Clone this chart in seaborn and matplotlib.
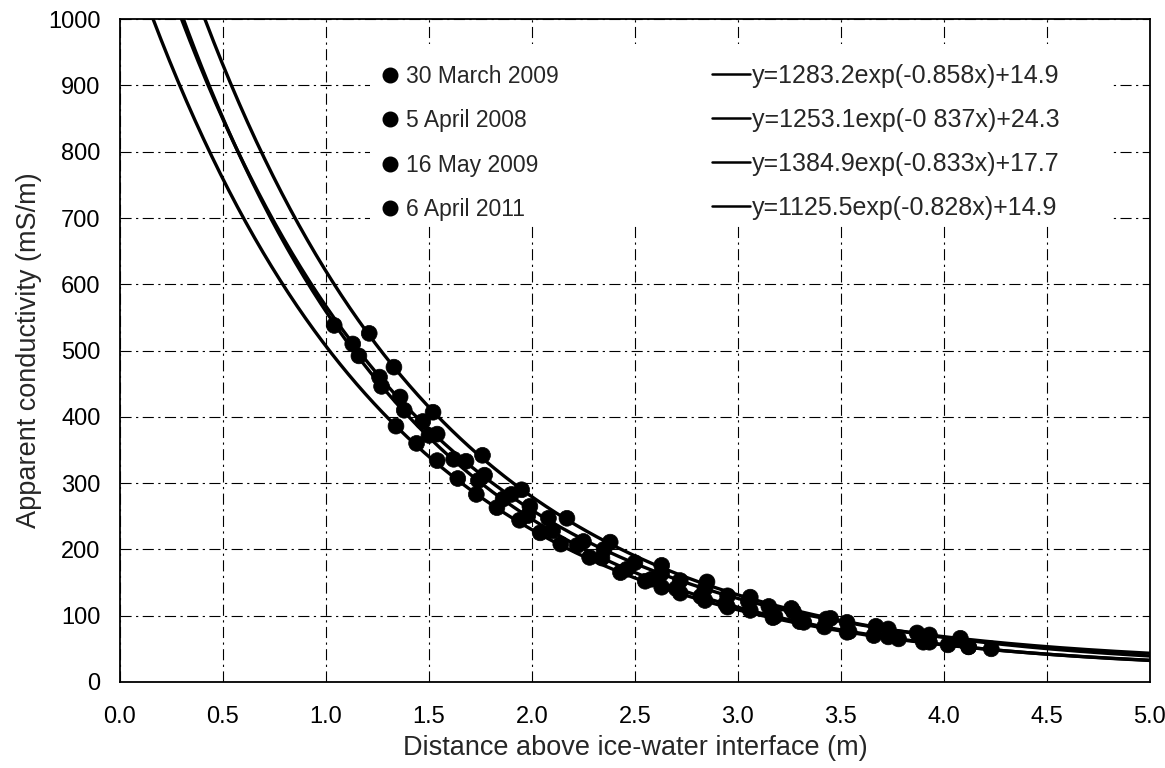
import numpy as np
import pandas as pd
import matplotlib
matplotlib.use("Agg")
import matplotlib.pyplot as plt
import seaborn as sns
from matplotlib.lines import Line2D
from matplotlib.patches import Rectangle

# ---------------- data ----------------
series_names = ["30 March 2009", "5 April 2008", "16 May 2009", "6 April 2011"]

x_mar2009 = [1.04, 1.16, 1.27, 1.38, 1.50, 1.62, 1.74, 1.86, 1.98, 2.10, 2.22, 2.34, 2.46,
             2.58, 2.70, 2.82, 2.94, 3.06, 3.18, 3.30, 3.42, 3.54, 3.66, 3.78, 3.90, 4.02, 4.12]
y_mar2009 = [538, 492, 446, 410, 372, 336, 304, 276, 251, 228, 206, 187, 170,
             155, 141, 129, 118, 108, 99, 91, 83, 76, 70, 65, 60, 56, 53]

x_apr2008 = [1.13, 1.26, 1.36, 1.47, 1.54, 1.68, 1.77, 1.90, 1.99, 2.08, 2.25, 2.35, 2.50,
             2.63, 2.72, 2.84, 2.95, 3.05, 3.15, 3.27, 3.43, 3.53, 3.73, 3.93]
y_apr2008 = [510, 460, 430, 393, 374, 333, 312, 283, 265, 247, 212, 200, 180,
             164, 153, 141, 130, 122, 114, 106, 95, 90, 80, 71]

x_may2009 = [1.21, 1.33, 1.52, 1.76, 1.95, 2.17, 2.38, 2.63, 2.85, 3.06, 3.26, 3.45,
             3.67, 3.87, 4.08]
y_may2009 = [526, 475, 407, 342, 290, 247, 211, 176, 151, 128, 111, 96, 84, 74, 66]

x_apr2011 = [1.34, 1.44, 1.54, 1.64, 1.73, 1.83, 1.94, 2.04, 2.14, 2.28, 2.43, 2.55, 2.63,
             2.72, 2.84, 2.95, 3.17, 3.32, 3.53, 3.73, 3.93, 4.12, 4.23]
y_apr2011 = [386, 360, 334, 307, 283, 263, 244, 225, 208, 188, 165, 152, 143,
             134, 123, 113, 97, 90, 75, 68, 60, 53, 50]

# fitted curves y = A*exp(-b*x) + c (equations from the legend)
fit_A = [1283.2, 1253.1, 1384.9, 1125.5]
fit_b = [0.858, 0.837, 0.833, 0.828]
fit_c = [14.9, 24.3, 17.7, 14.9]
fit_labels = ["y=1283.2exp(-0.858x)+14.9", "y=1253.1exp(-0 837x)+24.3",
              "y=1384.9exp(-0.833x)+17.7", "y=1125.5exp(-0.828x)+14.9"]

x_ticks = [0.0, 0.5, 1.0, 1.5, 2.0, 2.5, 3.0, 3.5, 4.0, 4.5, 5.0]
y_ticks = [0, 100, 200, 300, 400, 500, 600, 700, 800, 900, 1000]

# ---------------- build table ----------------
xs = [x_mar2009, x_apr2008, x_may2009, x_apr2011]
ys = [y_mar2009, y_apr2008, y_may2009, y_apr2011]
df = pd.concat([pd.DataFrame({"x": x, "y": y, "series": n})
                for x, y, n in zip(xs, ys, series_names)], ignore_index=True)

xx = np.linspace(0.05, 5.0, 600)
curves = pd.concat([pd.DataFrame({"x": xx, "y": A * np.exp(-b * xx) + c, "fit": lab})
                    for A, b, c, lab in zip(fit_A, fit_b, fit_c, fit_labels)],
                   ignore_index=True)

# ---------------- plot ----------------
sns.set_theme(style="white")
plt.rcParams["font.family"] = ["Liberation Sans", "DejaVu Sans"]

fig = plt.figure(figsize=(11.65, 7.68), dpi=100)
ax = fig.add_axes([0.103, 0.112, 0.884, 0.863])

black = ["black"] * 4
sns.lineplot(data=curves, x="x", y="y", hue="fit", palette=black, linewidth=2.4,
             legend=False, ax=ax, zorder=3, sort=False, estimator=None)
sns.scatterplot(data=df, x="x", y="y", hue="series", palette=black, s=130,
                edgecolor="black", linewidth=0.5, legend=False, ax=ax, zorder=4)

ax.set_xlim(0, 5.0)
ax.set_ylim(0, 1000)
ax.set_xticks(x_ticks)
ax.set_xticklabels([f"{v:.1f}" for v in x_ticks])
ax.set_yticks(y_ticks)
ax.set_yticklabels([str(v) for v in y_ticks])
ax.tick_params(axis="both", labelsize=17, colors="black", length=0)
ax.tick_params(axis="x", pad=17)
ax.tick_params(axis="y", pad=14)
ax.grid(True, color="black", linewidth=0.8, linestyle=(0, (10, 4, 2, 4)))
for sp in ax.spines.values():
    sp.set_color("black")
    sp.set_linewidth(1.3)

ax.set_xlabel("Distance above ice-water interface (m)", fontsize=19.5, labelpad=5)
ax.set_ylabel("Apparent conductivity (mS/m)", fontsize=19.5, labelpad=4)

# white area behind the legend
ax.add_patch(Rectangle((0.243, 0.690), 0.718, 0.272, transform=ax.transAxes,
                       facecolor="white", edgecolor="none", zorder=2))

# legends
pt_handles = [Line2D([], [], marker="o", linestyle="none", color="black",
                     markersize=10.5) for _ in series_names]
leg1 = ax.legend(pt_handles, series_names, loc="upper left",
                 bbox_to_anchor=(0.253, 0.931), frameon=False, fontsize=16.5,
                 handlelength=0.8, handletextpad=0.3, labelspacing=0.93, borderpad=0,
                 borderaxespad=0)
ax.add_artist(leg1)
ln_handles = [Line2D([], [], color="black", linewidth=1.8) for _ in fit_labels]
leg2 = ax.legend(ln_handles, fit_labels, loc="upper left",
                 bbox_to_anchor=(0.575, 0.933), frameon=False, fontsize=18,
                 handlelength=1.5, handletextpad=0.08, labelspacing=0.80, borderpad=0,
                 borderaxespad=0)
for lg in (leg1, leg2):
    lg.set_zorder(5)

fig.savefig("out.png", dpi=100)
